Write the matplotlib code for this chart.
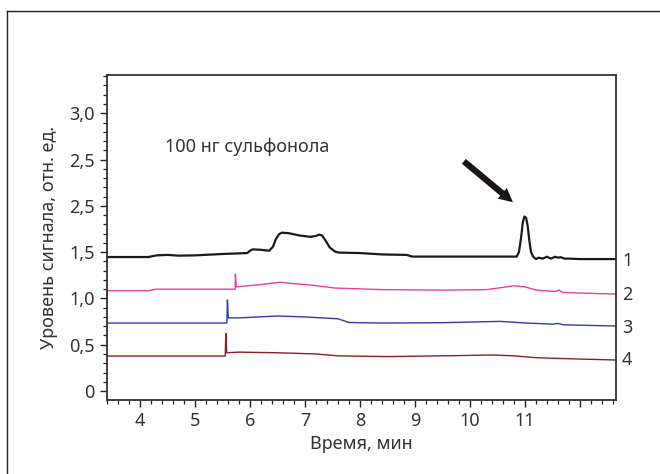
import matplotlib
matplotlib.use("Agg")
import matplotlib.pyplot as plt
from matplotlib.lines import Line2D
from matplotlib.ticker import MultipleLocator, FixedLocator, FixedFormatter

plt.rcParams["font.family"] = ["Noto Sans", "DejaVu Sans"]

# chromatogram traces (time in min, signal in rel. units)
t1 = [3.40, 4.15, 4.30, 4.50, 4.70, 5.00, 5.50, 5.95, 6.00, 6.05, 6.20, 6.35,
      6.42, 6.47, 6.53, 6.58, 6.70, 6.90, 7.10, 7.20, 7.26, 7.31, 7.38, 7.45, 7.55,
      7.62, 8.00, 8.40, 8.85, 8.95, 10.85, 10.89, 10.93, 10.96, 10.99, 11.02, 11.05,
      11.08, 11.11, 11.15, 11.20, 11.25, 11.32, 11.40, 11.47, 11.55, 11.60, 11.65,
      11.72, 11.80, 12.00, 12.65]
y1 = [1.447, 1.447, 1.465, 1.470, 1.462, 1.465, 1.480, 1.490, 1.515, 1.530, 1.525, 1.515,
      1.560, 1.640, 1.695, 1.710, 1.705, 1.680, 1.665, 1.675, 1.690, 1.680, 1.620, 1.550, 1.505,
      1.495, 1.490, 1.475, 1.470, 1.452, 1.452, 1.500, 1.660, 1.820, 1.885, 1.870, 1.780,
      1.620, 1.500, 1.450, 1.425, 1.440, 1.430, 1.450, 1.430, 1.450, 1.440, 1.445,
      1.430, 1.430, 1.425, 1.425]

t2 = [3.40, 4.15, 4.30, 5.73, 5.735, 5.75, 5.85, 6.20, 6.55, 6.70, 7.10, 7.55,
      8.40, 9.50, 10.30, 10.55, 10.80, 11.00, 11.20, 11.55, 11.62, 11.68, 12.00, 12.65]
y2 = [1.083, 1.083, 1.100, 1.100, 1.263, 1.125, 1.130, 1.150, 1.175, 1.165, 1.145, 1.112,
      1.095, 1.090, 1.095, 1.115, 1.137, 1.125, 1.090, 1.075, 1.090, 1.065, 1.058, 1.047]

t3 = [3.40, 5.58, 5.59, 5.605, 5.80, 6.50, 7.00, 7.60, 7.80, 8.40, 9.50, 10.25,
      10.55, 11.00, 11.50, 11.60, 11.70, 12.65]
y3 = [0.734, 0.734, 0.983, 0.790, 0.790, 0.810, 0.800, 0.780, 0.740, 0.734, 0.738, 0.748,
      0.752, 0.735, 0.722, 0.730, 0.715, 0.702]

t4 = [3.40, 5.55, 5.56, 5.575, 5.80, 6.50, 7.20, 7.60, 8.50, 9.50, 10.40, 10.80,
      11.20, 12.00, 12.65]
y4 = [0.378, 0.378, 0.623, 0.413, 0.420, 0.413, 0.400, 0.380, 0.372, 0.380, 0.389, 0.380,
      0.360, 0.345, 0.335]

trace_names = ["1", "2", "3", "4"]
y_tick_labels = ["0", "0,5", "1,0", "1,5", "2,5", "2,5", "3,0"]
x_tick_labels = ["4", "5", "6", "7", "8", "9", "10", "11", ""]

TXT = "#333333"
COLORS = ["#1a1a1a", "#e8409a", "#2a3ea6", "#8e1f22"]
FS = 13

fig = plt.figure(figsize=(6.6, 4.74), dpi=100)
fig.patch.set_facecolor("white")

# outer frame (open to the right and bottom, as in the source)
fig.add_artist(Line2D([7 / 660, 7 / 660], [0, 1 - 11 / 474],
                      transform=fig.transFigure, color="#222222", lw=1.0))
fig.add_artist(Line2D([7 / 660, 1], [1 - 11 / 474, 1 - 11 / 474],
                      transform=fig.transFigure, color="#222222", lw=1.0))

ax = fig.add_axes([107 / 660, 74 / 474, 509 / 660, 325 / 474])

for (t, y), c, lw in zip([(t1, y1), (t2, y2), (t3, y3), (t4, y4)], COLORS,
                         [1.6, 1.0, 1.0, 1.0]):
    ax.plot(t, y, color=c, lw=lw, solid_joinstyle="round")

ax.set_xlim(3.4, 12.655)
ax.set_ylim(-0.097, 3.413)

ax.yaxis.set_major_locator(FixedLocator([0, 0.5, 1.0, 1.5, 2.0, 2.5, 3.0]))
ax.yaxis.set_major_formatter(FixedFormatter(y_tick_labels))
ax.yaxis.set_minor_locator(MultipleLocator(0.1))
ax.xaxis.set_major_locator(FixedLocator(list(range(4, 13))))
ax.xaxis.set_major_formatter(FixedFormatter(x_tick_labels))
ax.xaxis.set_minor_locator(MultipleLocator(0.2))

ax.tick_params(which="major", direction="out", length=5, width=1.0, pad=4,
               labelsize=FS, labelcolor=TXT, color="#222222")
ax.tick_params(which="minor", direction="out", length=3, width=0.9, color="#222222")
for s in ax.spines.values():
    s.set_color("#333333")
    s.set_linewidth(1.3)

ax.set_xlabel("Время, мин", fontsize=FS, color=TXT, labelpad=3)
ax.set_ylabel("Уровень сигнала, отн. ед.", fontsize=FS, color=TXT, labelpad=8)

# trace numbers on the right
for name, yv in zip(trace_names, [1.40, 1.037, 0.68, 0.335]):
    ax.text(1.012, yv, name, transform=ax.get_yaxis_transform(),
            fontsize=FS, color=TXT, va="center", ha="left", clip_on=False)

ax.text(4.45, 2.64, "100 нг сульфонола", fontsize=FS, color=TXT, va="center", ha="left")

ax.annotate("", xy=(10.82, 2.02), xytext=(9.85, 2.50),
            arrowprops=dict(arrowstyle="simple,head_length=1.0,head_width=1.0,tail_width=0.45",
                            color="#1a1414", lw=0))

fig.savefig("out.png", dpi=100)
